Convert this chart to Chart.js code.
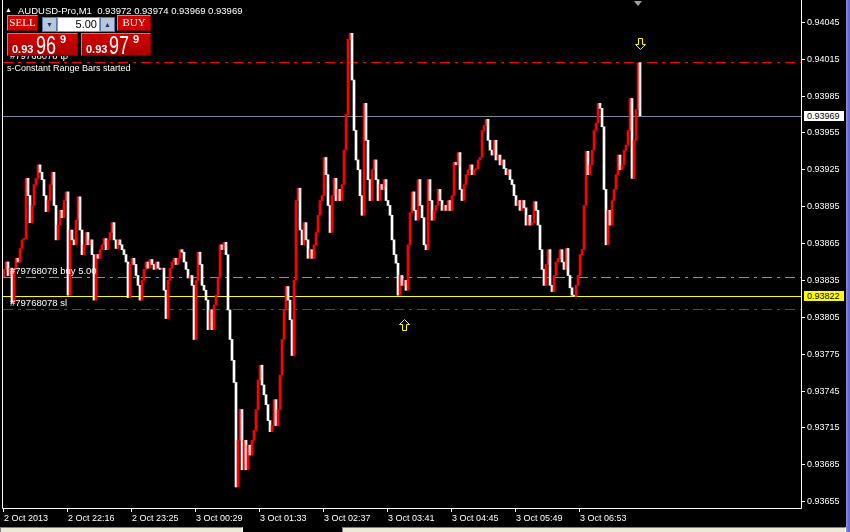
<!DOCTYPE html>
<html>
<head>
<meta charset="utf-8">
<script src="https://cdn.jsdelivr.net/npm/chart.js@4.4.0/dist/chart.umd.min.js"></script>
<style>
  html, body { margin: 0; padding: 0; background: #000; }
  #wrap { position: relative; width: 850px; height: 532px; overflow: hidden; background: #000;
          font-family: 'Liberation Sans', Arial, sans-serif; }
  #chart { position: absolute; left: 0; top: 0; }
  .t { position: absolute; color: #fff; font-size: 9.5px; line-height: 12px; white-space: nowrap; }
  .box { position: absolute; box-sizing: border-box; }
  .btn { background: #d00000; border: 1px solid; border-color: #ff7070 #800000 #800000 #ff7070;
         color: #fff; font-family: 'Liberation Serif', serif; font-size: 11px; line-height: 13px; text-align: center; }
  .spin { background: #b8c8dc; border: 1px solid #5c78a8; color: #1c3470; font-size: 7px; line-height: 13px; text-align: center; }
  .price { background: linear-gradient(#d40000, #a80000); border: 1px solid; border-color: #ff6060 #700000 #700000 #ff6060; color: #fff; }
  .price span { position: absolute; white-space: nowrap; }
  .price .a { bottom: 0px; font-weight: bold; font-size: 11px; line-height: 12px; }
  .price .b { top: -1px; font-size: 25px; line-height: 24px; transform: scaleX(0.72); transform-origin: 0 0; }
  .price .c { top: -1px; font-weight: bold; font-size: 11px; line-height: 12px; }
  .axlbl { position: absolute; box-sizing: border-box; width: 40px; height: 10px; color: #000;
           font-size: 9px; line-height: 10px; padding-left: 3px; }
  .status { position: absolute; top: 527px; height: 5px; box-sizing: border-box; background: #ece9d8;
            border-top: 1px solid #808080; border-left: 1px solid #808080; border-right: 1px solid #fff; }
</style>
</head>
<body>
<div id="wrap">
  <canvas id="chart" width="850" height="532"></canvas>

  <div class="t" id="tpText">#79768078 tp</div>
  <div class="t" id="buyText">#79768078 buy 5.00</div>
  <div class="t" id="slText">#79768078 sl</div>
  <div class="t" style="left:7px;top:62px;font-size:9px;">s-Constant Range Bars started</div>

  <div class="t" style="left:5px;top:4px;font-size:7px;">&#9650;</div>
  <div class="t" style="left:18px;top:5px;">AUDUSD-Pro,M1&nbsp; 0.93972 0.93974 0.93969 0.93969</div>

  <div class="box btn" style="left:7px;top:15px;width:31px;height:16px;">SELL</div>
  <div class="box spin" style="left:42px;top:17px;width:15px;height:15px;">&#9660;</div>
  <div class="box" style="left:57px;top:17px;width:43px;height:15px;background:#fff;border:1px solid #7f9db9;color:#000;font-size:11px;line-height:13px;text-align:right;padding-right:2px;">5.00</div>
  <div class="box spin" style="left:100px;top:17px;width:15px;height:15px;">&#9650;</div>
  <div class="box btn" style="left:117px;top:15px;width:34px;height:16px;">BUY</div>

  <div class="box price" style="left:7px;top:33px;width:71px;height:23px;">
    <span class="a" style="left:4px;">0.93</span><span class="b" style="left:28px;">96</span><span class="c" style="left:52px;">9</span>
  </div>
  <div class="box price" style="left:81px;top:33px;width:70px;height:23px;">
    <span class="a" style="left:4px;">0.93</span><span class="b" style="left:27px;">97</span><span class="c" style="left:51px;">9</span>
  </div>

  <div class="axlbl" id="bidBox" style="background:#fff;">0.93969</div>
  <div class="axlbl" id="alertBox" style="background:#ffff00;">0.93822</div>

  <div class="box" style="left:846px;top:0;width:4px;height:532px;background:linear-gradient(90deg,#8c8ce0,#5a5ac8);"></div>
  <div class="status" style="left:0;width:243px;"></div>
  <div class="status" style="left:342px;width:504px;"></div>
</div>

<script>
// Axis tick labels
const timeLabels = ['2 Oct 2013', '2 Oct 22:16', '2 Oct 23:25', '3 Oct 00:29', '3 Oct 01:33',
                    '3 Oct 02:37', '3 Oct 03:41', '3 Oct 04:45', '3 Oct 05:49', '3 Oct 06:53'];
const priceTicks = [0.94045, 0.94015, 0.93985, 0.93955, 0.93925, 0.93895, 0.93865,
                    0.93835, 0.93805, 0.93775, 0.93745, 0.93715, 0.93685, 0.93655];

// Range bars: each bar opens at the previous close
const firstOpen = 0.93838;
const closes = [
  0.93844, 0.93850, 0.93839, 0.93845, 0.93817, 0.93844, 0.93853, 0.93850, 0.93861, 0.93868,
  0.93869, 0.93918, 0.93904, 0.93882, 0.93896, 0.93913, 0.93918, 0.93929, 0.93923, 0.93917,
  0.93904, 0.93891, 0.93900, 0.93913, 0.93923, 0.93896, 0.93868, 0.93880, 0.93892, 0.93886,
  0.93900, 0.93907, 0.93823, 0.93876, 0.93868, 0.93864, 0.93884, 0.93903, 0.93876, 0.93856,
  0.93864, 0.93874, 0.93864, 0.93868, 0.93856, 0.93819, 0.93856, 0.93853, 0.93860, 0.93864,
  0.93869, 0.93860, 0.93868, 0.93874, 0.93882, 0.93868, 0.93861, 0.93868, 0.93864, 0.93860,
  0.93856, 0.93850, 0.93821, 0.93848, 0.93853, 0.93848, 0.93839, 0.93831, 0.93819, 0.93835,
  0.93844, 0.93850, 0.93845, 0.93852, 0.93848, 0.93844, 0.93850, 0.93845, 0.93844, 0.93845,
  0.93827, 0.93804, 0.93835, 0.93845, 0.93850, 0.93853, 0.93848, 0.93853, 0.93860, 0.93858,
  0.93850, 0.93844, 0.93837, 0.93839, 0.93831, 0.93787, 0.93835, 0.93858, 0.93848, 0.93831,
  0.93827, 0.93819, 0.93795, 0.93811, 0.93795, 0.93815, 0.93823, 0.93837, 0.93864, 0.93860,
  0.93866, 0.93856, 0.93811, 0.93787, 0.93770, 0.93752, 0.93667, 0.93705, 0.93730, 0.93681,
  0.93705, 0.93681, 0.93701, 0.93693, 0.93705, 0.93713, 0.93730, 0.93754, 0.93766, 0.93750,
  0.93742, 0.93734, 0.93721, 0.93712, 0.93717, 0.93738, 0.93717, 0.93730, 0.93758, 0.93787,
  0.93811, 0.93830, 0.93819, 0.93803, 0.93774, 0.93835, 0.93900, 0.93910, 0.93876, 0.93864,
  0.93882, 0.93868, 0.93853, 0.93860, 0.93853, 0.93864, 0.93874, 0.93888, 0.93900, 0.93904,
  0.93935, 0.93921, 0.93896, 0.93874, 0.93904, 0.93918, 0.93900, 0.93909, 0.93900, 0.93913,
  0.93941, 0.93970, 0.94031, 0.94036, 0.93998, 0.93957, 0.93933, 0.93925, 0.93904, 0.93888,
  0.93979, 0.93949, 0.93917, 0.93900, 0.93925, 0.93933, 0.93917, 0.93900, 0.93913, 0.93909,
  0.93917, 0.93900, 0.93896, 0.93888, 0.93868, 0.93856, 0.93849, 0.93823, 0.93839, 0.93831,
  0.93835, 0.93827, 0.93864, 0.93890, 0.93907, 0.93892, 0.93884, 0.93917, 0.93896, 0.93886,
  0.93864, 0.93860, 0.93917, 0.93900, 0.93884, 0.93892, 0.93896, 0.93909, 0.93900, 0.93892,
  0.93896, 0.93892, 0.93900, 0.93892, 0.93904, 0.93931, 0.93929, 0.93939, 0.93909, 0.93900,
  0.93913, 0.93921, 0.93925, 0.93929, 0.93921, 0.93925, 0.93926, 0.93933, 0.93935, 0.93957,
  0.93961, 0.93966, 0.93949, 0.93941, 0.93937, 0.93949, 0.93933, 0.93937, 0.93929, 0.93933,
  0.93926, 0.93921, 0.93925, 0.93917, 0.93913, 0.93904, 0.93896, 0.93900, 0.93892, 0.93900,
  0.93894, 0.93880, 0.93888, 0.93880, 0.93882, 0.93899, 0.93892, 0.93880, 0.93860, 0.93844,
  0.93831, 0.93848, 0.93860, 0.93831, 0.93826, 0.93839, 0.93850, 0.93853, 0.93860, 0.93850,
  0.93844, 0.93861, 0.93839, 0.93829, 0.93823, 0.93822, 0.93831, 0.93839, 0.93856, 0.93860,
  0.93896, 0.93940, 0.93921, 0.93929, 0.93941, 0.93957, 0.93963, 0.93979, 0.93975, 0.93960,
  0.93909, 0.93864, 0.93892, 0.93880, 0.93900, 0.93909, 0.93921, 0.93937, 0.93925, 0.93929,
  0.93941, 0.93945, 0.93957, 0.93983, 0.93918, 0.93949, 0.93974, 0.94012, 0.93969
];

// Horizontal levels
const tpPrice = 0.94013;
const bidPrice = 0.93969;
const entryPrice = 0.93838;
const alertPrice = 0.93822;
const slPrice = 0.93812;

// Signal arrows: bar index and price at the arrow tip
const arrowIndex = [200, 318];
const arrowPrice = [0.93804, 0.94023];
const arrowDir = ['up', 'down'];

const SLOTS = 399;          // visible bar slots, including empty right margin
const LABEL_EVERY = 32;
const labels = Array.from({ length: SLOTS }, (_, i) =>
  (i % LABEL_EVERY === 0 && i / LABEL_EVERY < timeLabels.length) ? timeLabels[i / LABEL_EVERY] : '');

const bars = closes.map((c, i) => [i === 0 ? firstOpen : closes[i - 1], c]);
const barColors = bars.map(([o, c]) => (c >= o ? '#ff0000' : '#ffffff'));

function hline(ctx, area, y, color, dash) {
  const py = Math.round(y) + 0.5;
  ctx.save();
  ctx.strokeStyle = color;
  ctx.lineWidth = 1;
  ctx.setLineDash(dash || []);
  ctx.beginPath();
  ctx.moveTo(area.left, py);
  ctx.lineTo(area.right, py);
  ctx.stroke();
  ctx.restore();
}

function arrow(ctx, cx, tip, dir) {
  const s = dir === 'up' ? 1 : -1;
  const x = Math.round(cx) + 0.5;
  const t = Math.round(tip) + 0.5;
  ctx.beginPath();
  ctx.moveTo(x, t);
  ctx.lineTo(x + 5, t + s * 5);
  ctx.lineTo(x + 2, t + s * 5);
  ctx.lineTo(x + 2, t + s * 11);
  ctx.lineTo(x - 2, t + s * 11);
  ctx.lineTo(x - 2, t + s * 5);
  ctx.lineTo(x - 5, t + s * 5);
  ctx.closePath();
  ctx.fillStyle = '#000';
  ctx.fill();
  ctx.strokeStyle = '#ffff00';
  ctx.lineWidth = 1;
  ctx.stroke();
}

const dashDot = [10, 5, 3, 5];

const overlay = {
  id: 'overlay',
  beforeDatasetsDraw(chart) {
    const { ctx, chartArea: a, scales: { y } } = chart;
    hline(ctx, a, y.getPixelForValue(tpPrice), '#ff0000', dashDot);
    hline(ctx, a, y.getPixelForValue(bidPrice), '#778899');
    hline(ctx, a, y.getPixelForValue(entryPrice), '#32cd32', dashDot);
    hline(ctx, a, y.getPixelForValue(alertPrice), '#ffff00');
    hline(ctx, a, y.getPixelForValue(slPrice), '#ff0000', dashDot);
  },
  afterDraw(chart) {
    const { ctx, chartArea: a, scales: { x, y } } = chart;
    ctx.save();
    // chart frame
    ctx.strokeStyle = '#ffffff';
    ctx.lineWidth = 1;
    ctx.beginPath();
    ctx.moveTo(a.left - 0.5, a.top);
    ctx.lineTo(a.left - 0.5, a.bottom + 0.5);
    ctx.lineTo(a.right + 0.5, a.bottom + 0.5);
    ctx.lineTo(a.right + 0.5, a.top);
    ctx.stroke();
    // signal arrows
    arrowIndex.forEach((idx, k) => arrow(ctx, x.getPixelForValue(idx), y.getPixelForValue(arrowPrice[k]), arrowDir[k]));
    // chart shift marker
    const mx = Math.round(x.getPixelForValue(closes.length - 2));
    ctx.fillStyle = '#a0a0a0';
    ctx.beginPath();
    ctx.moveTo(mx - 4, a.top + 1);
    ctx.lineTo(mx + 4, a.top + 1);
    ctx.lineTo(mx, a.top + 6);
    ctx.closePath();
    ctx.fill();
    ctx.restore();
  }
};

Chart.defaults.font.family = "'Liberation Sans', Arial, sans-serif";

const chart = new Chart(document.getElementById('chart'), {
  type: 'bar',
  data: {
    labels,
    datasets: [{
      data: bars,
      backgroundColor: barColors,
      borderWidth: 0,
      barPercentage: 1,
      categoryPercentage: 1,
      minBarLength: 1
    }]
  },
  options: {
    responsive: false,
    animation: false,
    devicePixelRatio: 1,
    layout: { padding: { left: 3, right: 0, top: 0, bottom: 0 } },
    plugins: { legend: { display: false }, tooltip: { enabled: false } },
    scales: {
      x: {
        ticks: {
          autoSkip: false, maxRotation: 0, minRotation: 0, align: 'start',
          color: '#ffffff', font: { size: 9 }, padding: 1,
          callback: (v, i) => labels[i]
        },
        grid: {
          drawOnChartArea: false, tickLength: 4,
          color: c => (labels[c.index] ? '#ffffff' : 'rgba(0,0,0,0)')
        },
        border: { display: false },
        afterFit: s => { s.height = 24; s.paddingLeft = 0; s.paddingRight = 0; }
      },
      y: {
        position: 'right',
        min: 0.936499,
        max: 0.940631,
        afterBuildTicks: s => { s.ticks = priceTicks.map(v => ({ value: v })); },
        ticks: { color: '#ffffff', font: { size: 9 }, padding: 2, callback: v => v.toFixed(5) },
        grid: { drawOnChartArea: false, tickLength: 4, color: '#ffffff' },
        border: { display: false },
        afterFit: s => { s.width = 49; s.paddingTop = 0; s.paddingBottom = 0; }
      }
    }
  },
  plugins: [overlay]
});

// Place text labels next to their price levels
const ys = chart.scales.y;
function put(id, left, top) {
  const el = document.getElementById(id);
  el.style.left = left + 'px';
  el.style.top = Math.round(top) + 'px';
}
put('tpText', 10, ys.getPixelForValue(tpPrice) - 12);
put('buyText', 10, ys.getPixelForValue(entryPrice) - 12);
put('slText', 10, ys.getPixelForValue(slPrice) - 12);
put('bidBox', chart.chartArea.right + 3, ys.getPixelForValue(bidPrice) - 5);
put('alertBox', chart.chartArea.right + 3, ys.getPixelForValue(alertPrice) - 5);
</script>
</body>
</html>
